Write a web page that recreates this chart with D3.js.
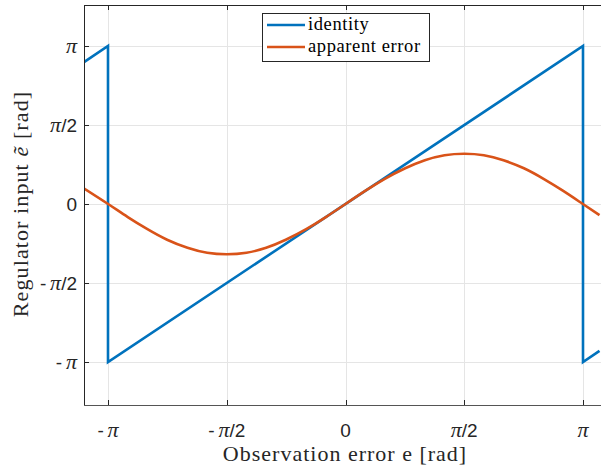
<!DOCTYPE html>
<html>
<head>
<meta charset="utf-8">
<script src="https://cdn.jsdelivr.net/npm/d3@7"></script>
<style>
  html, body { margin: 0; padding: 0; background: #fff; }
  svg { display: block; }
</style>
</head>
<body>
<div id="chart"></div>
<script>
// Identity (wrapped to [-π, π]) as a polyline of its corner points
const PI = Math.PI;
const identityE = [-3.47, -PI, -PI, PI, PI, 3.36];
const identityV = [2.81, PI, -PI, PI, -PI, -2.92];

// Apparent error sampled along the observation error axis
const apparentE = [-3.47, -3.14, -2.88, -2.62, -2.36, -2.09, -1.83, -1.57, -1.31, -1.05, -0.79, -0.52, -0.26,
                   0, 0.26, 0.52, 0.79, 1.05, 1.31, 1.57, 1.83, 2.09, 2.36, 2.62, 2.88, 3.14, 3.36];
const apparentV = [0.32, 0.00, -0.26, -0.50, -0.71, -0.87, -0.97, -1.00, -0.97, -0.87, -0.71, -0.50, -0.26,
                   0.00, 0.26, 0.50, 0.71, 0.87, 0.97, 1.00, 0.97, 0.87, 0.71, 0.50, 0.26, 0.00, -0.22];

// Tick positions and labels (π italic serif, remainder sans)
const xTicks = [-PI, -PI / 2, 0, PI / 2, PI];
const xTickLabels = [["-", "π", ""], ["-", "π", "/2"], ["", "", "0"], ["", "π", "/2"], ["", "π", ""]];
const yTicks = [-PI, -PI / 2, 0, PI / 2, PI];
const yTickLabels = [["-", "π", ""], ["-", "π", "/2"], ["", "", "0"], ["", "π", "/2"], ["", "π", ""]];

const seriesNames = ["identity", "apparent error"];
const seriesColors = ["#0072BD", "#D95319"];

const W = 601, H = 471;
const plotLeft = 84, plotTop = 5, plotBottom = 405, plotRight = 640;

const x = d3.scaleLinear().domain([-PI, PI]).range([108, 583]);
const y = d3.scaleLinear().domain([-PI, PI]).range([362, 46]);

const svg = d3.select("#chart").append("svg").attr("width", W).attr("height", H);

svg.append("defs").append("clipPath").attr("id", "plotclip")
  .append("rect").attr("x", plotLeft).attr("y", plotTop)
  .attr("width", plotRight - plotLeft).attr("height", plotBottom - plotTop);

// Grid
const grid = svg.append("g");
grid.selectAll("line.gx").data(xTicks).join("line")
  .attr("x1", d => Math.round(x(d)) + 0.5).attr("x2", d => Math.round(x(d)) + 0.5)
  .attr("y1", plotTop).attr("y2", plotBottom)
  .attr("stroke", "#e5e5e5").attr("stroke-width", 1);
grid.selectAll("line.gy").data(yTicks).join("line")
  .attr("y1", d => Math.round(y(d)) + 0.5).attr("y2", d => Math.round(y(d)) + 0.5)
  .attr("x1", plotLeft).attr("x2", W)
  .attr("stroke", "#e5e5e5").attr("stroke-width", 1);

// Lines
const plot = svg.append("g").attr("clip-path", "url(#plotclip)");
const identityLine = d3.line().x((d, i) => x(identityE[i])).y((d, i) => y(identityV[i]));
plot.append("path").datum(identityV).attr("d", identityLine)
  .attr("fill", "none").attr("stroke", seriesColors[0]).attr("stroke-width", 2.6)
  .attr("stroke-linejoin", "miter");

const apparentLine = d3.line().x((d, i) => x(apparentE[i])).y((d, i) => y(apparentV[i])).curve(d3.curveNatural);
plot.append("path").datum(apparentV).attr("d", apparentLine)
  .attr("fill", "none").attr("stroke", seriesColors[1]).attr("stroke-width", 2.6);

// Axes box
const axisColor = "#262626";
svg.append("line").attr("x1", plotLeft + 0.5).attr("x2", plotLeft + 0.5).attr("y1", plotTop).attr("y2", plotBottom + 0.5)
  .attr("stroke", axisColor);
svg.append("line").attr("x1", plotLeft).attr("x2", W).attr("y1", plotBottom + 0.5).attr("y2", plotBottom + 0.5)
  .attr("stroke", "#555");
svg.append("line").attr("x1", plotLeft).attr("x2", W).attr("y1", plotTop + 0.5).attr("y2", plotTop + 0.5)
  .attr("stroke", axisColor);

// Tick marks (inward)
const tickLen = 5;
svg.selectAll("line.tb").data(xTicks).join("line")
  .attr("x1", d => Math.round(x(d)) + 0.5).attr("x2", d => Math.round(x(d)) + 0.5)
  .attr("y1", plotBottom).attr("y2", plotBottom - tickLen).attr("stroke", axisColor);
svg.selectAll("line.tt").data(xTicks).join("line")
  .attr("x1", d => Math.round(x(d)) + 0.5).attr("x2", d => Math.round(x(d)) + 0.5)
  .attr("y1", plotTop).attr("y2", plotTop + tickLen).attr("stroke", axisColor);
svg.selectAll("line.tl").data(yTicks).join("line")
  .attr("y1", d => Math.round(y(d)) + 0.5).attr("y2", d => Math.round(y(d)) + 0.5)
  .attr("x1", plotLeft).attr("x2", plotLeft + tickLen).attr("stroke", axisColor);

// Tick labels
const sans = "'Liberation Sans', Arial, sans-serif";
const serif = "'Liberation Serif', 'Times New Roman', serif";
function tickText(sel, parts) {
  if (parts[0]) sel.append("tspan").attr("font-family", sans).attr("dx", 0).text(parts[0] + "\u2009");
  if (parts[1]) sel.append("tspan").attr("font-family", serif).attr("font-size", 22)
    .attr("font-style", "italic").text(parts[1]);
  if (parts[2]) sel.append("tspan").attr("font-family", sans).text(parts[2]);
}
xTicks.forEach((t, i) => {
  const txt = svg.append("text").attr("x", x(t)).attr("y", 437)
    .attr("text-anchor", "middle").attr("font-size", 19).attr("fill", axisColor);
  tickText(txt, xTickLabels[i]);
});
yTicks.forEach((t, i) => {
  const txt = svg.append("text").attr("x", 77).attr("y", y(t) + 7)
    .attr("text-anchor", "end").attr("font-size", 19).attr("fill", axisColor);
  tickText(txt, yTickLabels[i]);
});

// Axis titles
svg.append("text").attr("x", 345).attr("y", 461).attr("text-anchor", "middle")
  .attr("font-family", serif).attr("font-size", 22).attr("letter-spacing", 1.0).attr("fill", axisColor)
  .text("Observation error e [rad]");

const yl = svg.append("text").attr("transform", "translate(28,204) rotate(-90)")
  .attr("text-anchor", "middle").attr("font-family", serif).attr("font-size", 22)
  .attr("letter-spacing", 1.1).attr("fill", axisColor);
yl.append("tspan").text("Regulator input ");
yl.append("tspan").attr("font-style", "italic").text("e\u0303");
yl.append("tspan").text(" [rad]");

// Legend
const lg = svg.append("g");
lg.append("rect").attr("x", 262.5).attr("y", 13.5).attr("width", 167).attr("height", 48)
  .attr("fill", "#fff").attr("stroke", axisColor).attr("stroke-width", 1);
seriesNames.forEach((name, i) => {
  const yy = 25 + i * 22;
  lg.append("line").attr("x1", 267).attr("x2", 305).attr("y1", yy).attr("y2", yy)
    .attr("stroke", seriesColors[i]).attr("stroke-width", 2.6);
  lg.append("text").attr("x", 308).attr("y", yy + 5).attr("font-family", serif)
    .attr("font-size", 18.5).attr("letter-spacing", 0.6).attr("fill", "#000").text(name);
});
</script>
</body>
</html>
